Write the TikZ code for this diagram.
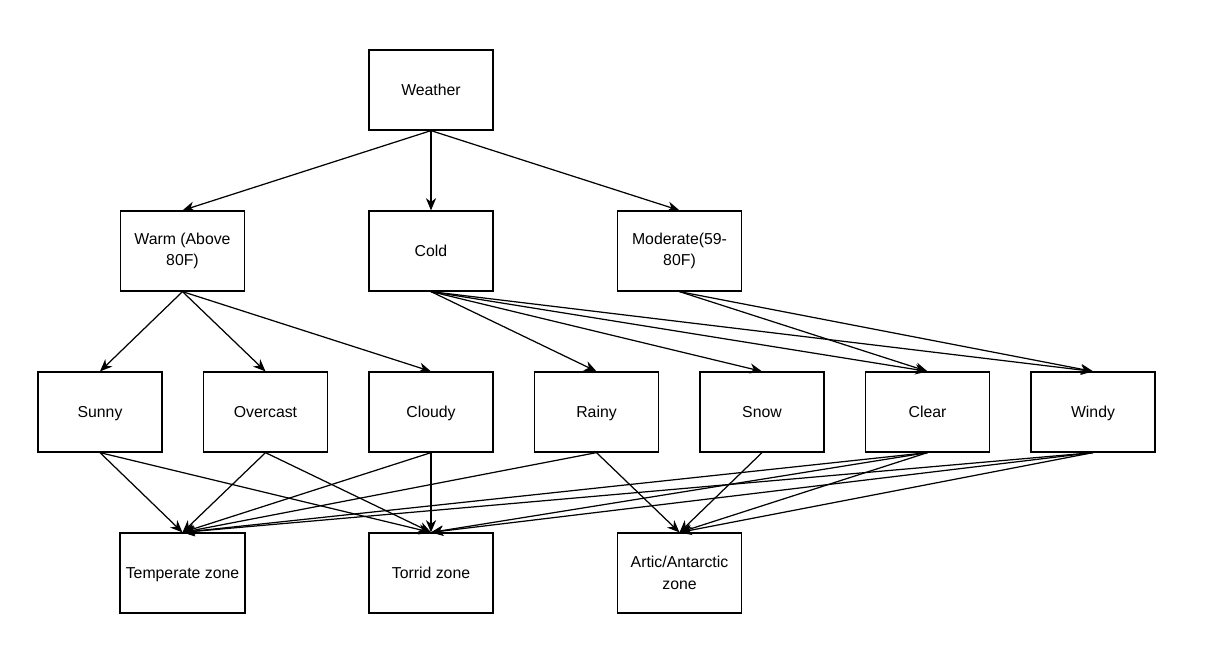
\documentclass[tikz,border=0pt]{standalone}
\usepackage{fontspec}
\setmainfont{Liberation Sans}
\usetikzlibrary{arrows.meta,positioning}

\begin{document}
\begin{tikzpicture}[node distance=3.22cm and 3.31cm,on grid,
  box/.style={draw,line width=0.7pt,minimum width=2.48cm,minimum height=1.6cm,
    align=center,text height=1.7ex,text depth=0.45ex,font=\fontsize{9}{12.4}\selectfont},
  twoline/.style={box,text height=,text depth=},
  every edge/.style={draw,line width=0.7pt,-{Stealth[length=7pt,width=5.8pt,inset=2.2pt]}}]
  \useasboundingbox (0,0) rectangle (24.34,-12.98);

  \node[box] (weather) at (8.62,-1.8) {Weather};

  \node[box] (cold) [below=of weather] {Cold};
  \node[twoline] (warm) [left=4.97cm of cold] {Warm (Above\\80F)};
  \node[twoline] (moderate) [right=4.97cm of cold] {Moderate(59-\\80F)};

  \node[box] (cloudy) [below=of cold] {Cloudy};
  \node[box] (overcast) [left=of cloudy] {Overcast};
  \node[box] (sunny) [left=of overcast] {Sunny};
  \node[box] (rainy) [right=of cloudy] {Rainy};
  \node[box] (snow) [right=of rainy] {Snow};
  \node[box] (clear) [right=of snow] {Clear};
  \node[box] (windy) [right=of clear] {Windy};

  \node[box] (torrid) [below=of cloudy] {Torrid zone};
  \node[box] (temperate) [left=4.97cm of torrid] {Temperate zone};
  \node[twoline] (artic) [right=4.97cm of torrid] {Artic/Antarctic\\zone};

  \path
    (weather.south) edge (warm.north)
    (weather.south) edge (cold.north)
    (weather.south) edge (moderate.north)
    (warm.south) edge (sunny.north)
    (warm.south) edge (overcast.north)
    (warm.south) edge (cloudy.north)
    (cold.south) edge (rainy.north)
    (cold.south) edge (snow.north)
    (cold.south) edge (clear.north)
    (cold.south) edge (windy.north)
    (moderate.south) edge (clear.north)
    (moderate.south) edge (windy.north);

  \path
    (sunny.south) edge (temperate.north)
    (sunny.south) edge (torrid.north)
    (overcast.south) edge (temperate.north)
    (overcast.south) edge (torrid.north)
    (cloudy.south) edge (temperate.north)
    (cloudy.south) edge (torrid.north)
    (rainy.south) edge (temperate.north)
    (rainy.south) edge (artic.north)
    (snow.south) edge (artic.north)
    (clear.south) edge (temperate.north)
    (clear.south) edge (torrid.north)
    (clear.south) edge (artic.north)
    (windy.south) edge (temperate.north)
    (windy.south) edge (torrid.north)
    (windy.south) edge (artic.north);
\end{tikzpicture}
\end{document}
